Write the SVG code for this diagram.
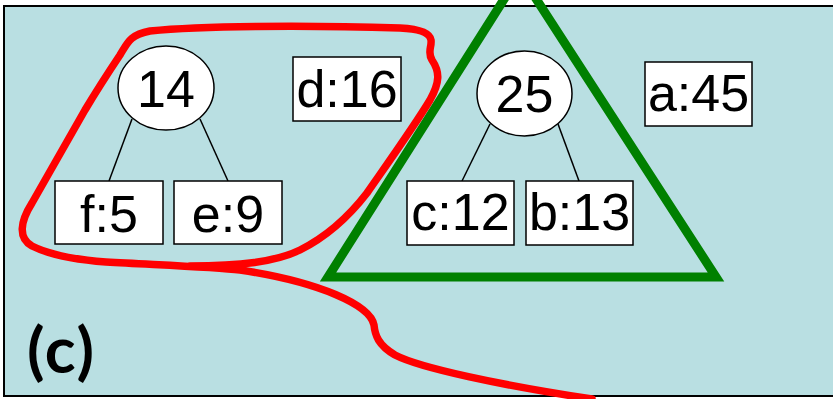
<svg xmlns="http://www.w3.org/2000/svg" width="833" height="399" viewBox="0 0 833 399">
<style>
.box{fill:#fff;stroke:#000;stroke-width:1.5}
.ell{fill:#fff;stroke:#000;stroke-width:1.5}
.lbl{font-family:"Liberation Sans",Arial,sans-serif;font-size:52px;fill:#000;text-anchor:middle}
.edge{stroke:#000;stroke-width:1.5;fill:none}
</style>
<rect x="4" y="6" width="840" height="390" fill="#b9dfe2" stroke="#000" stroke-width="2"/>
<g id="connectors">
<line class="edge" x1="132" y1="119" x2="109" y2="181"/>
<line class="edge" x1="200" y1="119" x2="228" y2="181"/>
<line class="edge" x1="490" y1="124" x2="462" y2="181"/>
<line class="edge" x1="558" y1="124" x2="579" y2="181"/>
</g>
<g id="n14"><ellipse class="ell" cx="166" cy="88" rx="48" ry="42"/><text class="lbl" x="166" y="107">14</text></g>
<g id="f5"><rect class="box" x="55" y="181" width="108" height="63"/><text class="lbl" x="109" y="232">f:5</text></g>
<g id="e9"><rect class="box" x="174" y="181" width="108" height="63"/><text class="lbl" x="228" y="232">e:9</text></g>
<g id="d16"><rect class="box" x="293" y="57" width="108" height="64"/><text class="lbl" x="347" y="107">d:16</text></g>
<g id="n25"><ellipse class="ell" cx="524.5" cy="93.5" rx="47.5" ry="42.5"/><text class="lbl" x="524.5" y="112">25</text></g>
<g id="c12"><rect class="box" x="407" y="181" width="107" height="64"/><text class="lbl" x="460.5" y="230">c:12</text></g>
<g id="b13"><rect class="box" x="526" y="181" width="107" height="64"/><text class="lbl" x="579.5" y="230">b:13</text></g>
<g id="a45"><rect class="box" x="645" y="62" width="107" height="64"/><text class="lbl" x="698.5" y="111">a:45</text></g>
<g id="triangle"><polygon points="520,-26 716,277 328,277" fill="none" stroke="#008000" stroke-width="9"/></g>
<g id="redloop"><path d="M 592 399 C 500 385, 420 368, 395 355 C 378 345, 375 335, 374 325 C 370 305, 320 282, 240 270 C 215 267, 160 265, 106 262 C 80 260, 50 255, 32 246 C 18 238, 20 222, 32 203 C 45 180, 65 145, 85 110 C 100 85, 110 70, 120 55 C 128 42, 130 35, 150 31 C 200 26, 300 25, 400 28 C 420 29, 430 33, 431 40 C 432 47, 427 52, 432 60 C 440 72, 440 82, 430 100 C 415 125, 390 160, 367 193 C 350 215, 330 235, 300 250 C 275 262, 240 266, 190 266" fill="none" stroke="#ff0000" stroke-width="7.5" stroke-linejoin="round" stroke-linecap="round"/></g>
<text x="27" y="373" font-family="Lato,'Liberation Sans',sans-serif" font-weight="bold" font-size="64" letter-spacing="2" fill="#000">(c)</text>
</svg>
